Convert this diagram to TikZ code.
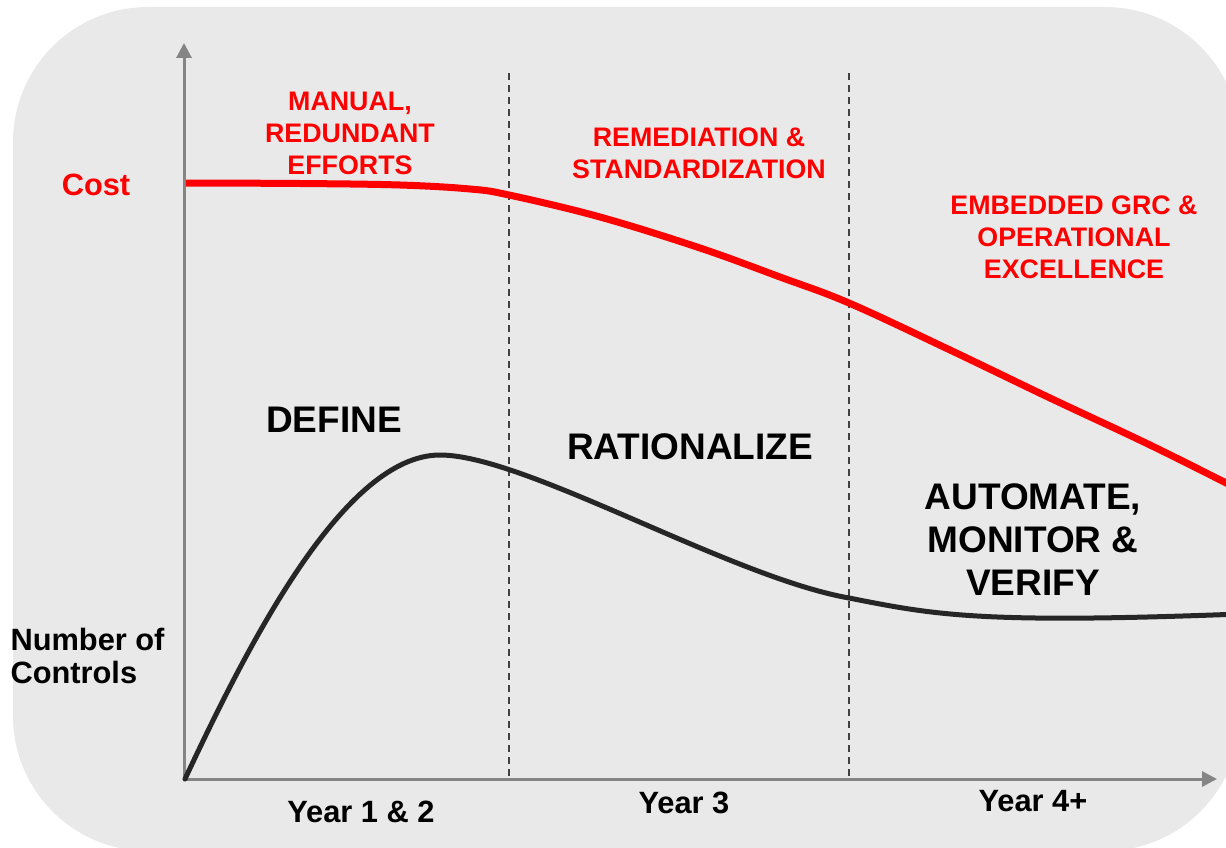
\documentclass[tikz,border=0pt]{standalone}
\usepackage{fontspec}
\setmainfont{Liberation Sans}
\usetikzlibrary{arrows.meta,positioning}
\definecolor{panelgray}{HTML}{E9E9E9}
\definecolor{axisgray}{HTML}{858585}
\definecolor{curvedark}{HTML}{262626}
\tikzset{
    %Define standard arrow tip
    >={Triangle[length=15pt,width=15pt]},
    %Define style for the axes
    axis/.style={
      ->,
      draw=axisgray,
      line width=3pt},
    % Define style for the year separators
    sep/.style={
      draw=black!75,
      line width=1.6pt,
      dash pattern=on 7pt off 5pt},
    % Define styles for the labels
    phase/.style={
      text=red,
      align=center,
      font=\bfseries\fontsize{26.8}{32}\selectfont},
    stage/.style={
      text=black,
      align=center,
      font=\bfseries\fontsize{37}{43}\selectfont},
    axislabel/.style={
      text=black,
      align=center,
      font=\bfseries\fontsize{30.8}{33}\selectfont}
}

\begin{document}
\begin{tikzpicture}[x=1pt, y=-1pt]
    \useasboundingbox (0,0) rectangle (1226,848);
    \clip (0,0) rectangle (1226,848);
    \fill[panelgray, rounded corners=135pt] (13,7) rectangle (1240,851);

    \coordinate (origin) at (184,779);
    \coordinate (ytop) at (184,43);
    \coordinate (xend) at (1217,779);
    \coordinate (sep1top) at (509,73);
    \coordinate (sep1bot) at (509,779);
    \coordinate (sep2top) at (849,73);
    \coordinate (sep2bot) at (849,779);
    \coordinate (peak) at (440,455);
    \coordinate (dip) at (849,598);

    \draw[sep] (sep1top) -- (sep1bot);
    \draw[sep] (sep2top) -- (sep2bot);

    \draw[axis] (origin) -- (ytop);
    \draw[axis] (origin) -- (xend);

    % cost curve
    \draw[red, line width=7pt] plot[smooth, tension=0.6] coordinates {
      (186,183) (300,183.5) (400,185) (470,189) (509,195) (600,217)
      (700,248) (780,277) (849,303) (950,350) (1050,398) (1150,445)
      (1240,490)};

    % number of controls curve
    \draw[curvedark, line width=5pt, line cap=round]
      (185,779) .. controls (250,640) and (345,455) .. (peak)
      .. controls (525,455) and (730,577) .. (dip)
      .. controls (935,615) and (980,624) .. (1240,614);

    \node[axislabel, text=red] (cost) at (96,185) {Cost};
    \node[axislabel, align=left, anchor=west] (controls) at (7,656) {Number of\\Controls};

    \node[phase] (manual) at (350,133) {MANUAL,\\REDUNDANT\\EFFORTS};
    \node[phase] (remed) at (699,153) {REMEDIATION \&\\STANDARDIZATION};
    \node[phase] (embedded) at (1074,237) {EMBEDDED GRC \&\\OPERATIONAL\\EXCELLENCE};

    \node[stage] (define) at (334,420) {DEFINE};
    \node[stage] (rational) at (690,447) {RATIONALIZE};
    \node[stage] (automate) at (1033,540) {AUTOMATE,\\MONITOR \&\\VERIFY};

    \node[axislabel] (year12) at (361,812) {Year 1 \& 2};
    \node[axislabel] (year3) at (684,803) {Year 3};
    \node[axislabel] (year4) at (1033,801) {Year 4+};
\end{tikzpicture}
\end{document}
